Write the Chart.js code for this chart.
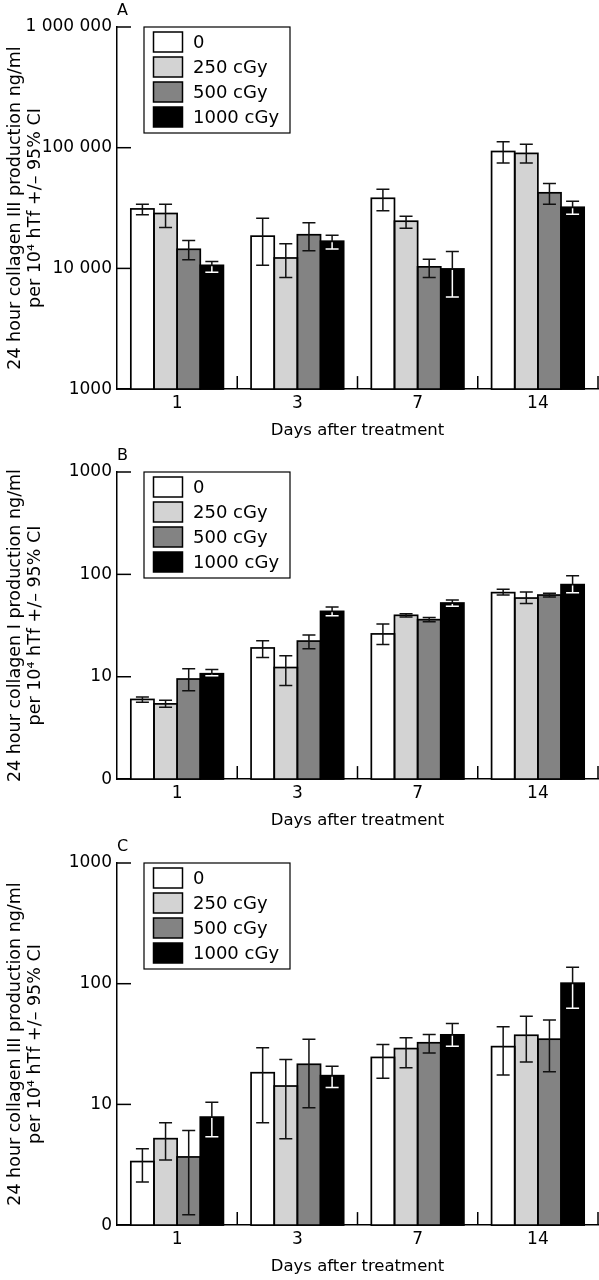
<!DOCTYPE html>
<html>
<head>
<meta charset="utf-8">
<script src="https://cdn.jsdelivr.net/npm/chart.js@4.4.1/dist/chart.umd.min.js"></script>
<style>
  body { margin: 0; background: #fff; width: 599px; }
  .panel { position: relative; width: 599px; }
</style>
</head>
<body>
<div class="panel" style="height:441px"><canvas id="chartA"></canvas></div>
<div class="panel" style="height:390px"><canvas id="chartB"></canvas></div>
<div class="panel" style="height:449px"><canvas id="chartC"></canvas></div>
<script>
const days = ["1", "3", "7", "14"];
const doses = ["0", "250 cGy", "500 cGy", "1000 cGy"];

// A: collagen III, mean and 95% CI [low, high]
const aMean0 = [31100, 18500, 38100, 93000];
const aMean250 = [28500, 12200, 24600, 89700];
const aMean500 = [14400, 19000, 10300, 42300];
const aMean1000 = [10600, 16800, 9900, 32100];
const aErr0 = [[27800, 34000], [10600, 26000], [30100, 45200], [74700, 112000]];
const aErr250 = [[21800, 34000], [8400, 16000], [21500, 27000], [74700, 107000]];
const aErr500 = [[11800, 17000], [14000, 23900], [8400, 11900], [34000, 50400]];
const aErr1000 = [[9300, 11400], [14500, 18800], [5800, 13800], [28100, 36000]];

// B: collagen I
const bMean0 = [6.0, 19.1, 26.2, 66.3];
const bMean250 = [5.43, 12.3, 39.8, 58.7];
const bMean500 = [9.5, 22.3, 36.1, 62.8];
const bMean1000 = [10.7, 43.5, 52.5, 79.4];
const bErr0 = [[5.64, 6.35], [15.4, 22.5], [20.6, 32.7], [62.8, 71.4]];
const bErr250 = [[5.04, 5.9], [8.2, 16.0], [38.4, 41.3], [51.8, 67.2]];
const bErr500 = [[7.3, 12.0], [18.8, 25.6], [34.5, 37.8], [60.1, 65.3]];
const bErr1000 = [[10.2, 11.8], [39.5, 48], [48.7, 56.1], [66.3, 97.1]];

// C: collagen III
const cMean0 = [3.36, 18.3, 24.5, 30.1];
const cMean250 = [5.2, 14.2, 29.0, 37.4];
const cMean500 = [3.67, 21.5, 32.4, 34.7];
const cMean1000 = [7.85, 17.3, 37.7, 101];
const cErr0 = [[2.28, 4.3], [7.06, 29.4], [16.5, 31.3], [17.5, 43.9]];
const cErr250 = [[3.47, 7.06], [5.2, 23.5], [20.1, 35.6], [22.5, 53.7]];
const cErr500 = [[1.22, 6.07], [9.4, 34.7], [26.7, 37.9], [18.6, 50.1]];
const cErr1000 = [[5.4, 10.4], [13.8, 20.7], [30.3, 46.7], [62.5, 137]];

const tickValsA = [1000, 10000, 100000, 1000000];
const tickLabelsA = ["1000", "10 000", "100 000", "1 000 000"];
const tickValsBC = [1, 10, 100, 1000];
const tickLabelsBC = ["0", "10", "100", "1000"];

const fills = ["#ffffff", "#d3d3d3", "#838383", "#000000"];
const FONT = "DejaVu Sans";

const decor = {
  id: "decor",
  afterDatasetsDraw(chart) {
    const ctx = chart.ctx;
    const ys = chart.scales.y;
    const xs = chart.scales.x;
    const area = chart.chartArea;
    ctx.save();

    // bar outlines, shared edges between neighbours
    ctx.strokeStyle = "#000";
    ctx.lineWidth = 1.7;
    chart.data.datasets.forEach((ds, i) => {
      chart.getDatasetMeta(i).data.forEach((bar) => {
        const p = bar.getProps(["x", "y", "base", "width"], true);
        ctx.strokeRect(p.x - p.width / 2, p.y, p.width, p.base - p.y);
      });
    });

    // error bars
    ctx.lineWidth = 1.5;
    chart.data.datasets.forEach((ds, i) => {
      const meta = chart.getDatasetMeta(i);
      meta.data.forEach((bar, j) => {
        const p = bar.getProps(["x", "y", "base", "width"], true);
        const lo = ys.getPixelForValue(ds.errs[j][0]);
        const hi = ys.getPixelForValue(ds.errs[j][1]);
        const drawBar = (color) => {
          ctx.strokeStyle = color;
          ctx.beginPath();
          ctx.moveTo(p.x, lo); ctx.lineTo(p.x, hi);
          ctx.moveTo(p.x - 6.5, lo); ctx.lineTo(p.x + 6.5, lo);
          ctx.moveTo(p.x - 6.5, hi); ctx.lineTo(p.x + 6.5, hi);
          ctx.stroke();
        };
        drawBar("#111");
        if (ds.backgroundColor === "#000000") {
          ctx.save();
          ctx.beginPath();
          ctx.rect(p.x - p.width / 2 + 1, p.y + 1, p.width - 2, p.base - p.y - 1);
          ctx.clip();
          drawBar("#fff");
          ctx.restore();
        }
      });
    });

    // inward ticks on y axis
    ctx.strokeStyle = "#000";
    ys.ticks.forEach((t) => {
      const y = ys.getPixelForValue(t.value);
      ctx.beginPath();
      ctx.moveTo(area.left, y); ctx.lineTo(area.left + 14, y);
      ctx.stroke();
    });
    // category separators on x axis
    const w = xs.getPixelForTick(1) - xs.getPixelForTick(0);
    for (let k = 0; k < days.length; k++) {
      const x = xs.getPixelForTick(k) + w / 2;
      ctx.beginPath();
      ctx.moveTo(x, area.bottom); ctx.lineTo(x, area.bottom - 13);
      ctx.stroke();
    }

    // legend box
    const lx = area.left + 27, ly = area.top;
    ctx.lineWidth = 1.2;
    ctx.strokeStyle = "#000";
    ctx.strokeRect(lx, ly, 146, 106);
    ctx.font = "18px '" + FONT + "'";
    ctx.textBaseline = "middle";
    ctx.textAlign = "left";
    chart.data.datasets.forEach((ds, i) => {
      const sy = ly + 5 + i * 25;
      ctx.fillStyle = ds.backgroundColor;
      ctx.fillRect(lx + 9.5, sy, 29, 20);
      ctx.lineWidth = 1.5;
      ctx.strokeRect(lx + 9.5, sy, 29, 20);
      ctx.fillStyle = "#000";
      ctx.fillText(ds.label, lx + 49, sy + 11);
    });

    // panel letter
    ctx.font = "16px '" + FONT + "'";
    ctx.textBaseline = "middle";
    ctx.fillText(chart.options.panelLetter, area.left, area.top - 16);
    ctx.restore();
  }
};

function makePanel(id, letter, means, errs, tickVals, tickLabels, yTitle, padTop, padBottom) {
  new Chart(document.getElementById(id), {
    type: "bar",
    data: {
      labels: days,
      datasets: means.map((m, i) => ({
        label: doses[i],
        data: m,
        errs: errs[i],
        backgroundColor: fills[i],
        borderWidth: 0,
        categoryPercentage: 0.77,
        barPercentage: 1.0,
      })),
    },
    options: {
      panelLetter: letter,
      responsive: true,
      maintainAspectRatio: false,
      animation: false,
      layout: { padding: { top: padTop, right: 1, left: 0, bottom: padBottom } },
      plugins: {
        legend: { display: false },
        tooltip: { enabled: false },
      },
      scales: {
        x: {
          offset: true,
          grid: { display: false, drawTicks: false },
          border: { display: true, color: "#000", width: 1.5 },
          ticks: { color: "#000", font: { family: FONT, size: 17 }, padding: 4, maxRotation: 0 },
          title: {
            display: true,
            text: "Days after treatment",
            color: "#000",
            font: { family: FONT, size: 16.5 },
            padding: { top: 3, bottom: 0 },
          },
        },
        y: {
          type: "logarithmic",
          min: tickVals[0],
          max: tickVals[tickVals.length - 1],
          afterBuildTicks: (s) => { s.ticks = tickVals.map((v) => ({ value: v })); },
          afterFit: (s) => { s.width = 117; },
          grid: { display: false, drawTicks: false },
          border: { display: true, color: "#000", width: 1.5 },
          ticks: {
            color: "#000",
            font: { family: FONT, size: 17 },
            padding: 5,
            callback: (v) => tickLabels[tickVals.indexOf(v)],
          },
          title: {
            display: true,
            text: yTitle,
            color: "#000",
            font: { family: FONT, size: 17.5, lineHeight: 1.15 },
            padding: { top: 5, bottom: 0 },
          },
        },
      },
    },
    plugins: [decor],
  });
}

makePanel("chartA", "A",
  [aMean0, aMean250, aMean500, aMean1000],
  [aErr0, aErr250, aErr500, aErr1000],
  tickValsA, tickLabelsA,
  ["24 hour collagen III production ng/ml", "per 10\u2074 hTf +/\u2013 95% CI"], 27, 0.7);

makePanel("chartB", "B",
  [bMean0, bMean250, bMean500, bMean1000],
  [bErr0, bErr250, bErr500, bErr1000],
  tickValsBC, tickLabelsBC,
  ["24 hour collagen I production ng/ml", "per 10\u2074 hTf +/\u2013 95% CI"], 31, 0.7);

makePanel("chartC", "C",
  [cMean0, cMean250, cMean500, cMean1000],
  [cErr0, cErr250, cErr500, cErr1000],
  tickValsBC, tickLabelsBC,
  ["24 hour collagen III production ng/ml", "per 10\u2074 hTf +/\u2013 95% CI"], 32, 3.7);
</script>
</body>
</html>
